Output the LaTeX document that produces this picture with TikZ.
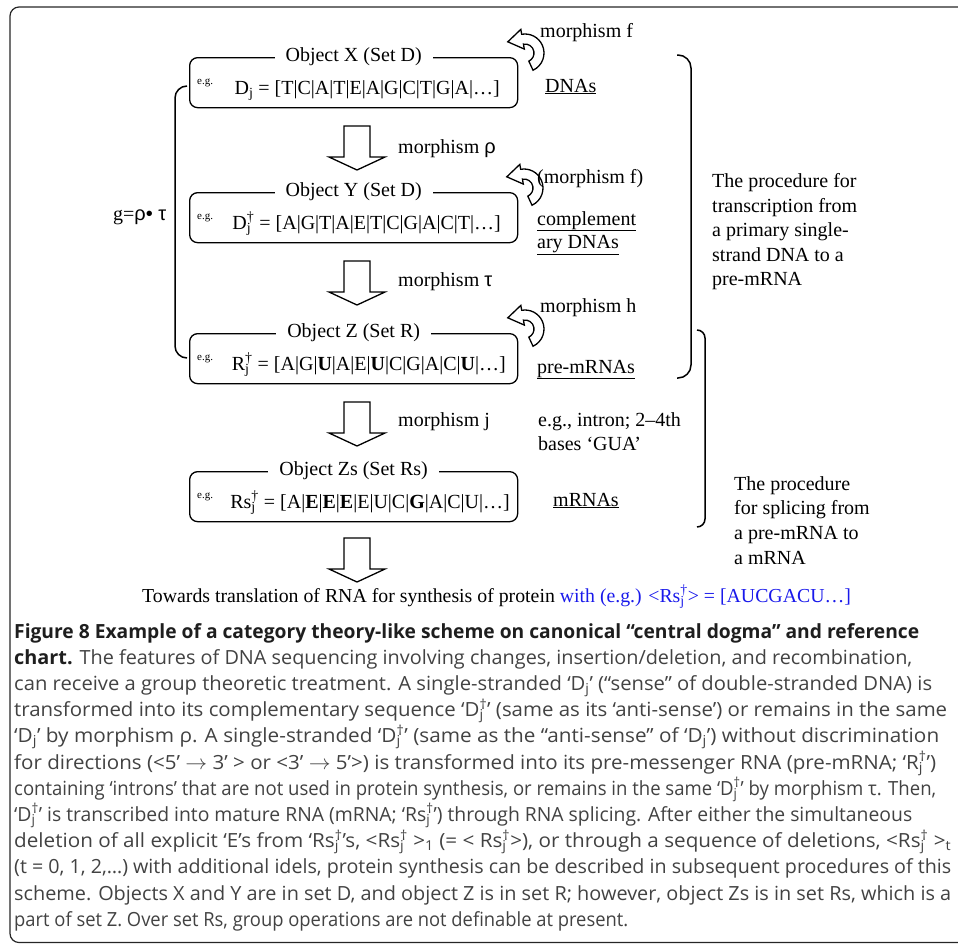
\documentclass[tikz,border=0pt]{standalone}
\usepackage{fontspec}
\usepackage{graphicx}
\setmainfont{Liberation Serif}
\newfontfamily\capfont{Open Sans}
\newfontfamily\grk{Liberation Sans}
\usetikzlibrary{calc}
\definecolor{capgray}{RGB}{66,66,66}
\definecolor{capdark}{RGB}{30,30,30}
\definecolor{linkblue}{RGB}{25,25,235}
\newcommand\jd[1]{#1\rlap{\textsubscript{j}}\textsuperscript{†}}
\newcommand\capw[2]{\resizebox{#1pt}{\height}{#2}}
\newcommand\blkarrow[2]{%
  \coordinate (#1) at #2;
  \draw[blk] (#1) ++(-13,0) -- ++(26,0) -- ++(0,31) -- ++(15,0) -- ++(-28,13) -- ++(-28,-13) -- ++(15,0) -- cycle;}
\newcommand\selfloop[2]{%
  \coordinate (#1) at #2;
  \draw[blk] ($(#1)+(65:19)$) arc[start angle=65, end angle=-100, radius=19]
    -- ($(#1)+(-100:24)$) -- ($(#1)+(-100:14)+(170:15)$) -- ($(#1)+(-100:4)$)
    -- ($(#1)+(-100:9)$) arc[start angle=-100, end angle=65, radius=9] -- cycle;}
\begin{document}
\begin{tikzpicture}[x=1pt,y=-1pt, font=\fontsize{20}{24}\selectfont,
  frame/.style={draw=black!85, line width=1.2pt, rounded corners=9pt},
  objbox/.style={draw, line width=1.3pt, rounded corners=8pt, minimum width=328pt, minimum height=50pt, anchor=north west, inner sep=0pt},
  objtitle/.style={fill=white, inner xsep=11pt, inner ysep=0pt},
  lbl/.style={anchor=west, text height=14pt, text depth=4pt, inner sep=0pt},
  lble/.style={anchor=east, text height=14pt, text depth=4pt, inner sep=0pt},
  eg/.style={anchor=west, inner sep=0pt, font=\fontsize{11}{12}\selectfont},
  blk/.style={draw, line width=1.3pt, fill=white, line join=miter},
  brc/.style={draw, line width=1.5pt},
  capline/.style={anchor=base west, inner sep=0pt, font=\capfont\fontsize{19.5}{24}\selectfont, text=capgray},
]
\useasboundingbox (0,0) rectangle (958,943);
\draw[frame] (10,7) rectangle (990,942.5);

% objects
\node[objbox] (bX) at (189,57) {};
\node[objtitle] (tX) at (bX.north) {Object X (Set D)};
\node[eg] (eX) at (197,83) {e.g.};
\node[lble] (cX) at (500,89) {D\textsubscript{j} = [T|C|A|T|E|A|G|C|T|G|A|…]};

\node[objbox] (bY) at (189,192) {};
\node[objtitle] (tY) at (bY.north) {Object Y (Set D)};
\node[eg] (eY) at (197,218) {e.g.};
\node[lble] (cY) at (501,224) {\jd{D} = [A|G|T|A|E|T|C|G|A|C|T|…]};

\node[objbox] (bZ) at (189,333) {};
\node[objtitle] (tZ) at (bZ.north) {Object Z (Set R)};
\node[eg] (eZ) at (197,359) {e.g.};
\node[lble] (cZ) at (506,365) {\jd{R} = [A|G|\textbf{U}|A|E|\textbf{U}|C|G|A|C|\textbf{U}|…]};

\node[objbox] (bS) at (189,471) {};
\node[objtitle] (tS) at (bS.north) {Object Zs (Set Rs)};
\node[eg] (eS) at (197,497) {e.g.};
\node[lble] (cS) at (510,503) {\jd{Rs} = [A|\textbf{E}|\textbf{E}|\textbf{E}|E|U|C|\textbf{G}|A|C|U|…]};

% block arrows
\blkarrow{a1}{(357,126)}
\blkarrow{a2}{(357,261)}
\blkarrow{a3}{(357,402)}
\blkarrow{a4}{(357,538)}

% self loops
\selfloop{l1}{(525,53)}
\selfloop{l2}{(524,188)}
\selfloop{l3}{(525,329)}

% braces
\coordinate (lbt) at (187,86);
\coordinate (lbb) at (187,358);
\draw[brc, rounded corners=12pt] (lbt) -- ++(-12,0) |- (lbb);
\coordinate (rbt) at (677,55);
\coordinate (rbb) at (677,378);
\draw[brc, rounded corners=13pt] (rbt) -- ++(14,0) |- (rbb);
\coordinate (sbt) at (697,330);
\coordinate (sbb) at (697,527);
\draw[brc, rounded corners=8pt] (sbt) -- ++(8,0) |- (sbb);

% labels
\node[lbl] (g) at (113,215) {g={\grk ρ• τ}};
\node[lbl] (mrho) at (398,148) {morphism {\grk ρ}};
\node[lbl] (mtau) at (398,281) {morphism {\grk τ}};
\node[lbl] (mj) at (398,421) {morphism j};
\node[lbl] (mf) at (540,32) {morphism f};
\node[lbl] (mf2) at (537,178) {(morphism f)};
\node[lbl] (mh) at (540,307) {morphism h};
\node[lbl] (dna) at (545,87) {\underline{DNAs}};
\node[lbl] (cd1) at (537,220) {\underline{complement}};
\node[lbl] (cd2) at (537,243) {\underline{ary DNAs}};
\node[lbl] (pre) at (537,368) {\underline{pre-mRNAs}};
\node[lbl] (int1) at (538,421) {e.g., intron; 2–4th};
\node[lbl] (int2) at (538,445) {bases ‘GUA’};
\node[lbl] (mr) at (553,501) {\underline{mRNAs}};

\node[lbl] (p1) at (712,182) {The procedure for};
\node[lbl] (p2) at (712,207) {transcription from};
\node[lbl] (p3) at (712,231) {a primary single-};
\node[lbl] (p4) at (712,256) {strand DNA to a};
\node[lbl] (p5) at (712,280) {pre-mRNA};

\node[lbl] (s1) at (734,485) {The procedure};
\node[lbl] (s2) at (734,509) {for splicing from};
\node[lbl] (s3) at (734,534) {a pre-mRNA to};
\node[lbl] (s4) at (734,559) {a mRNA};

\node[lbl, font=\fontsize{19.8}{24}\selectfont] (tow) at (142,597) {Towards translation of RNA for synthesis of protein \textcolor{linkblue}{with (e.g.) <\jd{Rs}> = [AUCGACU…]}};

% caption
\node[capline, text=capdark] (c1) at (14,638) {\capw{905}{\bfseries Figure 8 Example of a category theory-like scheme on canonical “central dogma” and reference}};
\node[capline] (c2) at (14,664.2) {\capw{898}{\textcolor{capdark}{\bfseries chart.} The features of DNA sequencing involving changes, insertion/deletion, and recombination,}};
\node[capline] (c3) at (14,690.4) {\capw{918}{can receive a group theoretic treatment. A single-stranded ‘D\textsubscript{j}’ (“sense” of double-stranded DNA) is}};
\node[capline] (c4) at (14,716.6) {\capw{933}{transformed into its complementary sequence ‘\jd{D}’ (same as its ‘anti-sense’) or remains in the same}};
\node[capline] (c5) at (14,742.8) {\capw{925}{‘D\textsubscript{j}’ by morphism ρ. A single-stranded ‘\jd{D}’ (same as the “anti-sense” of ‘D\textsubscript{j}’) without discrimination}};
\node[capline] (c6) at (14,769.0) {\capw{922}{for directions (<5’ $\rightarrow$ 3’ > or <3’ $\rightarrow$ 5’>) is transformed into its pre-messenger RNA (pre-mRNA; ‘\jd{R}’)}};
\node[capline] (c7) at (14,795.2) {\capw{922}{containing ‘introns’ that are not used in protein synthesis, or remains in the same ‘\jd{D}’ by morphism τ. Then,}};
\node[capline] (c8) at (14,821.4) {\capw{898}{‘\jd{D}’ is transcribed into mature RNA (mRNA; ‘\jd{Rs}’) through RNA splicing. After either the simultaneous}};
\node[capline] (c9) at (14,847.6) {\capw{937}{deletion of all explicit ‘E’s from ‘\jd{Rs}’s, <\jd{Rs} >\textsubscript{1} (= < \jd{Rs}>), or through a sequence of deletions, <\jd{Rs} >\textsubscript{t}}};
\node[capline] (c10) at (14,873.8) {\capw{937}{(t = 0, 1, 2,…) with additional idels, protein synthesis can be described in subsequent procedures of this}};
\node[capline] (c11) at (14,900.0) {\capw{937}{scheme. Objects X and Y are in set D, and object Z is in set R; however, object Zs is in set Rs, which is a}};
\node[capline] (c12) at (14,926.2) {\capw{614}{part of set Z. Over set Rs, group operations are not definable at present.}};
\end{tikzpicture}
\end{document}
